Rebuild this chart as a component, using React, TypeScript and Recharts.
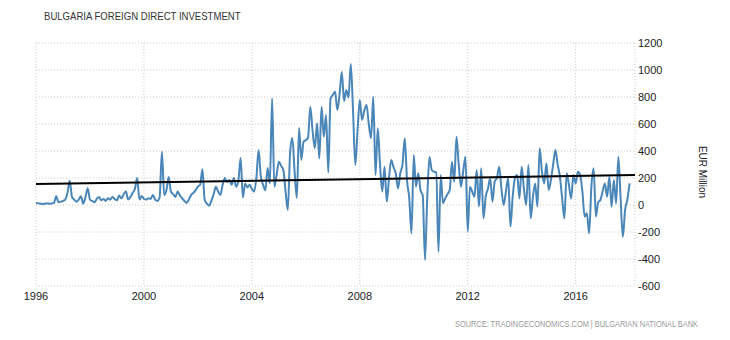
import { LineChart, Line, XAxis, YAxis, CartesianGrid, ReferenceLine } from 'recharts';

// monthly FDI, EUR million, starting Jan 1996
const startYear = 1996;
const fdi1996to1999 = [
    15, 12, 10, 8, 10, 12, 10, 12, 15, 65, 20, 25,
    30, 40, 90, 180, 60, 40, 25, 40, 65, 10, 60, 125,
    40, 30, 20, 45, 60, 35, 45, 30, 50, 40, 60, 45,
    35, 70, 50, 80, 100, 40, 60, 90, 120, 200, 40, 67,
];
const fdi2000to2003 = [
    45, 40, 50, 45, 75, 40, 30, 60, 395, 75, 110, 207,
    100, 80, 60, 100, 70, 50, 30, 15, 40, 75, 90, 110,
    136, 150, 265, 40, 10, -5, 30, 80, 135, 100, 75, 150,
    200, 170, 185, 150, 200, 136, 180, 348, 55, 160, 130, 150,
];
const fdi2004to2007 = [
    120, 99, 200, 407, 210, 150, 110, 274, 160, 790, 136, 220,
    321, 290, 259, 100, -37, 385, 496, 250, 52, 570, 333, 470,
    480, 500, 728, 550, 420, 605, 345, 728, 506, 667, 240, 790,
    815, 840, 704, 820, 985, 770, 852, 795, 1045, 700, 296, 550,
];
const fdi2008to2011 = [
    778, 630, 700, 740, 600, 494, 802, 222, 568, 300, 99, 284,
    25, 200, 333, 280, 235, 123, 235, 300, 494, 185, 50, -210,
    370, 136, 235, 111, 70, -407, 50, 355, 259, 247, 240, -346,
    222, 12, 49, 80, 111, 321, 173, 506, 300, 136, 250, 358,
];
const fdi2012to2015 = [
    -197, 136, 100, 62, 259, -12, 272, -99, 62, 120, 198, 25,
    173, 200, 284, 120, 0, 100, 200, -160, 62, 198, 222, 49,
    284, 120, 0, 296, -99, 60, 160, -12, 420, 250, 160, 309,
    111, 185, 300, 407, 300, 210, 50, -99, 235, 150, 49, 222,
];
const fdi2016to2018 = [
    160, 247, 222, 100, -86, -62, -210, 136, 272, -86, 20, 37,
    100, 160, 62, 210, -12, 185, 12, 358, 50, -235, -37, 40,
    160,
];

// straight trend line drawn over the series
const trendYears = [1996, 2018.2];
const trendValues = [155, 222];

const xTicks = [1996, 2000, 2004, 2008, 2012, 2016];
const yTicks = [-600, -400, -200, 0, 200, 400, 600, 800, 1000, 1200];

const fdiValues = [
    ...fdi1996to1999,
    ...fdi2000to2003,
    ...fdi2004to2007,
    ...fdi2008to2011,
    ...fdi2012to2015,
    ...fdi2016to2018,
];
const chartData = fdiValues.map((v, i) => ({ t: startYear + i / 12, fdi: v }));

const font = "'Liberation Sans', Arial, sans-serif";

const App = () => {
    return (
        <div style={{ position: 'absolute', left: 0, top: 0, width: 730, height: 340, background: '#fff', fontFamily: font }}>
            {/* narrow title, squeezed to the reference width */}
            <div
                style={{
                    position: 'absolute',
                    left: 44,
                    top: 10,
                    fontSize: 11,
                    color: '#333',
                    whiteSpace: 'nowrap',
                    transform: 'scaleX(0.87)',
                    transformOrigin: 'left top',
                }}
            >
                BULGARIA FOREIGN DIRECT INVESTMENT
            </div>
            <LineChart
                width={730}
                height={340}
                data={chartData}
                margin={{ top: 43, right: 55, bottom: 34, left: 36 }}
            >
                <CartesianGrid stroke="#c8c8c8" strokeDasharray="1 2" />
                <XAxis
                    dataKey="t"
                    type="number"
                    domain={[1996, 2018.2]}
                    ticks={xTicks}
                    axisLine={false}
                    tickLine={false}
                    tickSize={0}
                    tickMargin={6}
                    height={20}
                    tick={{ fontSize: 11, fill: '#222', fontFamily: font }}
                    allowDataOverflow
                />
                <YAxis
                    orientation="right"
                    domain={[-600, 1200]}
                    ticks={yTicks}
                    axisLine={false}
                    tickLine={false}
                    tickSize={0}
                    tickMargin={3}
                    width={40}
                    tick={{ fontSize: 11, fill: '#222', fontFamily: font, textAnchor: 'start' }}
                />
                <Line
                    type="monotone"
                    dataKey="fdi"
                    stroke="#4a86b8"
                    strokeWidth={2}
                    dot={false}
                    isAnimationActive={false}
                />
                <ReferenceLine
                    segment={[
                        { x: trendYears[0], y: trendValues[0] },
                        { x: trendYears[1], y: trendValues[1] },
                    ]}
                    stroke="#000"
                    strokeWidth={2}
                    ifOverflow="visible"
                />
            </LineChart>
            <div
                style={{
                    position: 'absolute',
                    left: 702,
                    top: 172,
                    fontSize: 10,
                    color: '#222',
                    whiteSpace: 'nowrap',
                    transform: 'translate(-50%, -50%) rotate(90deg)',
                }}
            >
                EUR Million
            </div>
            <div
                style={{
                    position: 'absolute',
                    left: 455,
                    top: 319,
                    fontSize: 8.5,
                    color: '#999',
                    whiteSpace: 'nowrap',
                    transform: 'scaleX(0.87)',
                    transformOrigin: 'left top',
                }}
            >
                SOURCE: TRADINGECONOMICS.COM | BULGARIAN NATIONAL BANK
            </div>
        </div>
    );
};

export default App;
